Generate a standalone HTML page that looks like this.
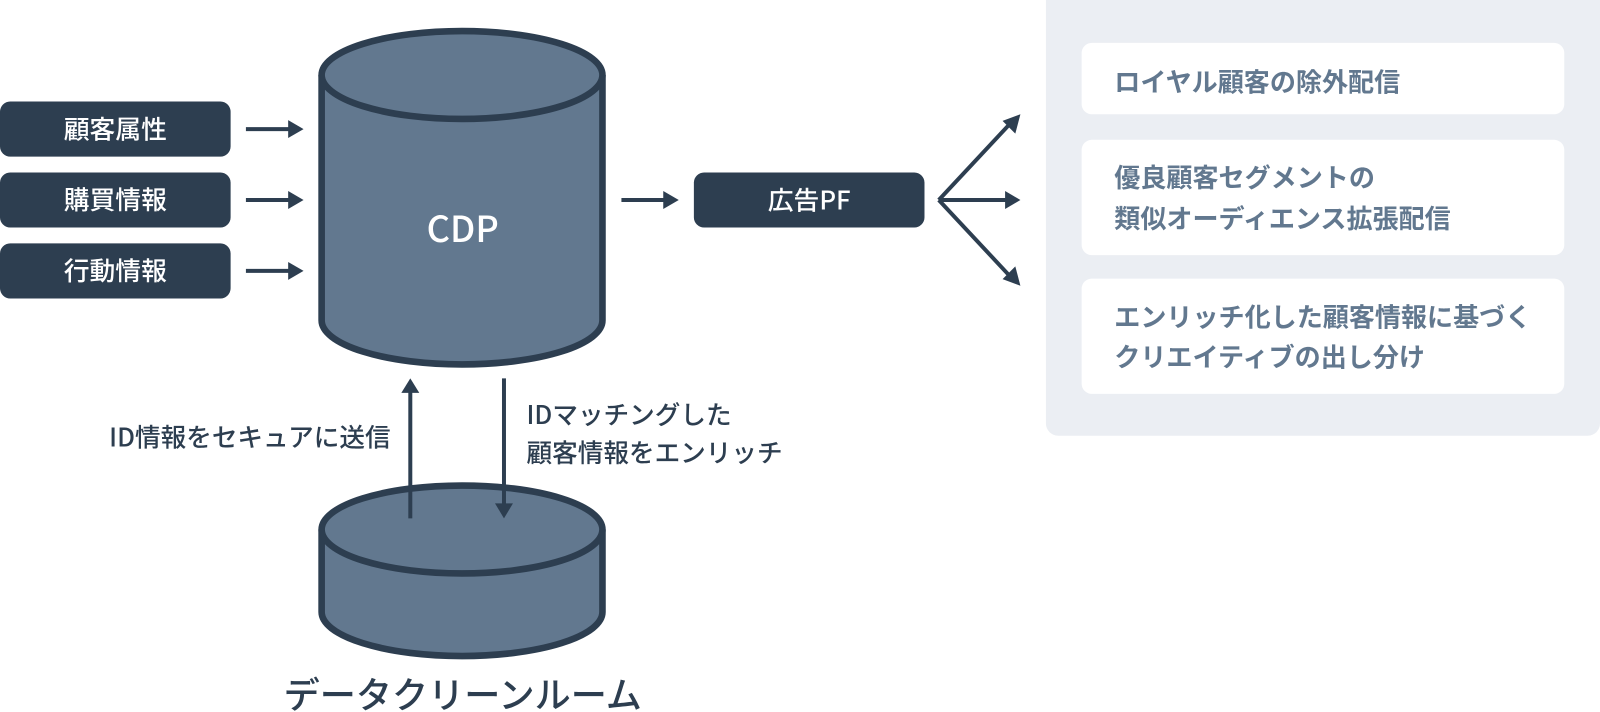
<!DOCTYPE html>
<html lang="ja">
<head>
<meta charset="utf-8">
<style>
html,body{margin:0;padding:0;background:#fff;width:1600px;height:712px;overflow:hidden}
svg{display:block}
text{font-family:"Noto Sans CJK JP","Liberation Sans",sans-serif}
</style>
</head>
<body>
<svg width="1600" height="712" viewBox="0 0 1568 697.76" xmlns="http://www.w3.org/2000/svg">
<!-- panel -->
<rect x="1025" y="-12" width="543" height="439" rx="12" fill="#ebeef3"/>
<rect x="1060" y="42" width="473" height="70" rx="10" fill="#fff"/>
<rect x="1060" y="137" width="473" height="113" rx="10" fill="#fff"/>
<rect x="1060" y="273" width="473" height="113" rx="10" fill="#fff"/>
<g font-size="25.550" font-weight="700" fill="#62788f">
<text x="1092" y="89.500">ロイヤル顧客の除外配信</text>
<text x="1092" y="183.500">優良顧客セグメントの</text>
<text x="1092" y="223.500">類似オーディエンス拡張配信</text>
<text x="1092" y="320">エンリッチ化した顧客情報に基づく</text>
<text x="1092" y="359">クリエイティブの出し分け</text>
</g>
<!-- left boxes -->
<rect x="0" y="99.500" width="226" height="54" rx="10" fill="#2d3e50"/>
<rect x="0" y="169" width="226" height="54" rx="10" fill="#2d3e50"/>
<rect x="0" y="238.500" width="226" height="54" rx="10" fill="#2d3e50"/>
<g font-size="25.300" font-weight="500" fill="#fff" text-anchor="middle">
<text x="113" y="135.500">顧客属性</text>
<text x="113" y="205">購買情報</text>
<text x="113" y="274.500">行動情報</text>
</g>
<!-- connectors behind the cylinders -->
<g stroke="#2d3e50" stroke-width="3.900" fill="none">
<path d="M241 126.500H284"/>
<path d="M241 196H284"/>
<path d="M241 265.500H284"/>
<path d="M609 196H652"/>
<path d="M920 196H987"/>
<path d="M920 196L991 120"/>
<path d="M920 196L991 272"/>
</g>
<g fill="#2d3e50">
<path d="M282.400 117.700L297.500 126.500L282.400 135.300Z"/>
<path d="M282.400 187.200L297.500 196L282.400 204.800Z"/>
<path d="M282.400 256.700L297.500 265.500L282.400 274.300Z"/>
<path d="M650 187.200L665.200 196L650 204.800Z"/>
<path d="M985 187.200L1000 196L985 204.800Z"/>
<path d="M1000 112L982.500 118.500L995 131Z"/>
<path d="M1000 280L982.500 273.500L995 261Z"/>
</g>
<!-- ad box -->
<rect x="680" y="169" width="226" height="54" rx="10" fill="#2d3e50"/>
<text x="793" y="205.500" font-size="25.300" font-weight="500" fill="#fff" text-anchor="middle">広告PF</text>
<!-- CDP cylinder -->
<path d="M315.200 73.500V314A137.600 43.100 0 0 0 590.400 314V73.500" fill="#62788f" stroke="#2d3e50" stroke-width="6.500"/>
<ellipse cx="452.800" cy="73.500" rx="137.600" ry="43.100" fill="#62788f" stroke="#2d3e50" stroke-width="6.500"/>
<text x="453.500" y="237" font-size="35.500" font-weight="500" fill="#fff" text-anchor="middle">CDP</text>
<!-- lower cylinder -->
<path d="M315.200 518.900V599.800A137.600 43.100 0 0 0 590.400 599.800V518.900" fill="#62788f" stroke="#2d3e50" stroke-width="6.500"/>
<ellipse cx="452.800" cy="518.900" rx="137.600" ry="43.100" fill="#62788f" stroke="#2d3e50" stroke-width="6.500"/>
<!-- vertical arrows over lower cylinder -->
<path d="M402.100 508V384M493.900 370.800V495" stroke="#2d3e50" stroke-width="3.900" fill="none"/>
<path d="M393.300 385L402.100 370.800L410.900 385Z" fill="#2d3e50"/>
<path d="M485.100 493.300L493.900 508L502.700 493.300Z" fill="#2d3e50"/>
<g fill="#2d3e50" font-size="25.100" font-weight="500">
<text x="107" y="437.500">ID情報をセキュアに送信</text>
<text x="516" y="415.500">IDマッチングした</text>
<text x="516" y="453">顧客情報をエンリッチ</text>
</g>
<text x="278" y="694" font-size="35.400" font-weight="500" fill="#2d3e50">データクリーンルーム</text>
</svg>
</body>
</html>
